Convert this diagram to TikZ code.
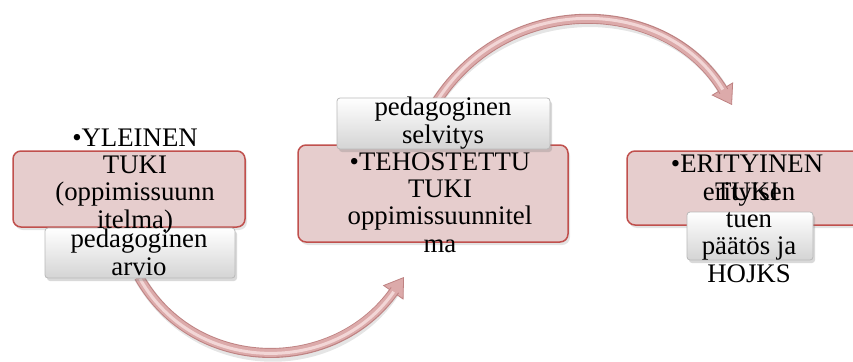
\documentclass[tikz,border=0pt]{standalone}
\usepackage{fontspec}
\setmainfont{Liberation Serif}
\usetikzlibrary{arrows.meta,shadows}
\definecolor{pinkfill}{RGB}{230,205,205}
\definecolor{pinkline}{RGB}{192,80,77}
\definecolor{arrowmid}{RGB}{220,170,170}
\definecolor{arrowdark}{RGB}{190,130,130}
\definecolor{arrowlight}{RGB}{242,214,214}
\definecolor{whitebot}{RGB}{212,212,212}
\definecolor{whiteline}{RGB}{185,185,185}
\begin{document}
\begin{tikzpicture}[x=1pt,y=-1pt,
  phase/.style={draw=pinkline, line width=1.5pt, fill=pinkfill, rounded corners=8pt,
    drop shadow={opacity=0.22, shadow xshift=2pt, shadow yshift=-3pt}},
  tagbox/.style={draw=whiteline, line width=0.8pt, top color=white, bottom color=whitebot,
    rounded corners=3pt, drop shadow={opacity=0.3, shadow xshift=2pt, shadow yshift=-3pt}},
  lbl/.style={font=\fontsize{26.8}{27.3}\selectfont, align=center, inner sep=0pt, anchor=base},
  tubeshadow/.style={black, opacity=0.10, line width=11pt, shorten >=18pt},
  tubeedge/.style={arrowdark, line width=10pt, shorten >=16pt},
  tubebody/.style={arrowmid, line width=8pt, shorten >=15pt},
  tubeshine/.style={arrowlight, line width=3pt, shorten >=18pt, shorten <=2pt},
  tubetip/.style={arrowdark, line width=0.8pt, -{Triangle[length=19pt,width=25pt,fill=arrowmid]}}
]
\useasboundingbox (0,0) rectangle (853,361);
\clip (0,0) rectangle (853,361);

% connectors (behind the boxes)
\coordinate (a1s) at (139,277);
\coordinate (a1e) at (404,277);
\coordinate (a2s) at (437,101);
\coordinate (a2e) at (732,105);
\draw[tubeshadow, shift={(2pt,-4pt)}] (a1s) .. controls (195,376) and (335,376) .. (a1e);
\draw[tubeshadow, shift={(2pt,-4pt)}] (a2s) .. controls (509,-10) and (667,-4) .. (a2e);
\draw[tubetip] (a1s) .. controls (195,376) and (335,376) .. (a1e);
\draw[tubetip] (a2s) .. controls (509,-10) and (667,-4) .. (a2e);
\draw[tubeedge] (a1s) .. controls (195,376) and (335,376) .. (a1e);
\draw[tubebody] (a1s) .. controls (195,376) and (335,376) .. (a1e);
\draw[tubeshine] (a1s) .. controls (195,376) and (335,376) .. (a1e);
\draw[tubeedge] (a2s) .. controls (509,-10) and (667,-4) .. (a2e);
\draw[tubebody] (a2s) .. controls (509,-10) and (667,-4) .. (a2e);
\draw[tubeshine] (a2s) .. controls (509,-10) and (667,-4) .. (a2e);

% pink phase boxes
\node[phase, minimum width=232pt, minimum height=76pt] (p1) at (129,189) {};
\node[phase, minimum width=270pt, minimum height=97pt] (p2) at (433,193.5) {};
\node[phase, minimum width=240pt, minimum height=74pt] (p3) at (747,188) {};

% white tag boxes
\node[tagbox, minimum width=190pt, minimum height=50pt] (w1) at (140,253) {};
\node[tagbox, minimum width=213pt, minimum height=51pt] (w2) at (443.5,123.5) {};
\node[tagbox, minimum width=126pt, minimum height=48pt] (w3) at (750,236) {};

% texts (anchor base = baseline of the last line)
\node[lbl] (t1) at (135,228) {•YLEINEN\\TUKI\\(oppimissuunn\\itelma)};
\node[lbl] (t2) at (440,252) {•TEHOSTETTU\\TUKI\\oppimissuunnitel\\ma};
\node[lbl] (t3) at (747,200) {•ERITYINEN\\TUKI};
\node[lbl] (s1) at (139,275) {pedagoginen\\arvio};
\node[lbl] (s2) at (443,143) {pedagoginen\\selvitys};
\node[lbl] (s3) at (749,282) {erityisen\\tuen\\päätös ja\\HOJKS};
\end{tikzpicture}
\end{document}
